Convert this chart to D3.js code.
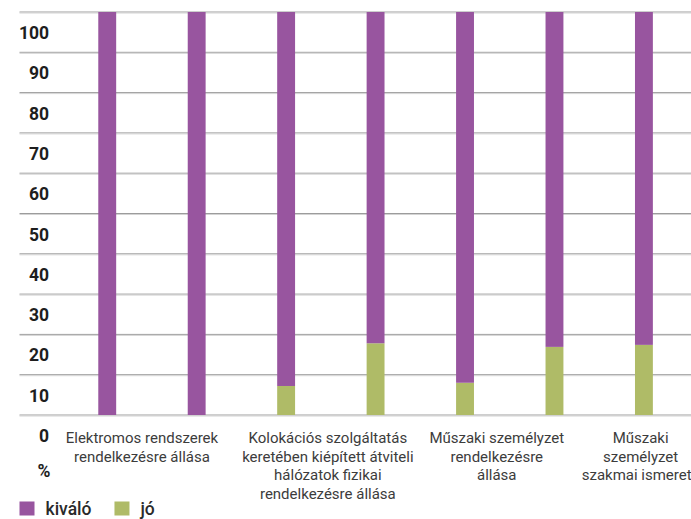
<!DOCTYPE html>
<html>
<head>
<meta charset="utf-8">
<script src="https://cdn.jsdelivr.net/npm/d3@7/dist/d3.min.js"></script>
<style>
  html, body { margin: 0; padding: 0; background: #fff; }
  svg { display: block; }
</style>
</head>
<body>
<svg id="chart" width="691" height="519"></svg>
<script>
// Categories (two bars per category)
const categories = [
  ["Elektromos rendszerek", "rendelkezésre állása"],
  ["Kolokációs szolgáltatás", "keretében kiépített átviteli", "hálózatok fizikai", "rendelkezésre állása"],
  ["Műszaki személyzet", "rendelkezésre", "állása"],
  ["Műszaki", "személyzet", "szakmai ismerete"]
];
// Bar -> category index
const barCategory = [0, 0, 1, 1, 2, 2, 3];
// Series values (%)
const kivalo = [100, 100, 92.8, 82.2, 92.0, 83.1, 82.6];
const jo     = [0, 0, 7.2, 17.8, 8.0, 16.9, 17.4];
const yTicks = [0, 10, 20, 30, 40, 50, 60, 70, 80, 90, 100];
const seriesNames = ["kiváló", "jó"];
const colors = ["#98559f", "#afbb67"];

const svg = d3.select("#chart");

const y = d3.scaleLinear().domain([0, 100]).range([415, 12]);

// 8 slots: two per category
const step = 89.45;
const x0 = 62.5;
const x = d3.scaleBand()
  .domain(d3.range(categories.length * 2))
  .range([x0, x0 + step * categories.length * 2])
  .paddingInner(0.8)
  .paddingOuter(0.4);

// Gridlines
const grid = svg.append("g");
grid.selectAll("line.g1").data(yTicks).join("line")
  .attr("x1", 19.5).attr("x2", 691)
  .attr("y1", d => y(d)).attr("y2", d => y(d))
  .attr("stroke", "#9c9c9c").attr("stroke-width", 1);
grid.selectAll("line.g2").data(yTicks).join("line")
  .attr("x1", 19.5).attr("x2", 691)
  .attr("y1", d => y(d) + 1).attr("y2", d => y(d) + 1)
  .attr("stroke", "#d4d4d4").attr("stroke-width", 1);

// Y labels (placed below each gridline)
svg.append("g").selectAll("text").data(yTicks).join("text")
  .attr("x", 49).attr("y", d => y(d) + 27)
  .attr("text-anchor", "end")
  .attr("font-family", "Roboto, sans-serif")
  .attr("font-weight", "bold")
  .attr("font-size", 17.5)
  .attr("fill", "#1e1e1e")
  .text(d => d);

svg.append("text")
  .attr("x", 44).attr("y", 477)
  .attr("text-anchor", "middle")
  .attr("font-family", "Roboto, sans-serif")
  .attr("font-weight", "bold")
  .attr("font-size", 17.5)
  .attr("fill", "#1e1e1e")
  .text("%");

// Stacked bars
const bars = svg.append("g");
bars.selectAll("rect.jo").data(jo).join("rect")
  .attr("x", (d, i) => x(i)).attr("width", x.bandwidth())
  .attr("y", d => y(d)).attr("height", d => y(0) - y(d))
  .attr("fill", colors[1]);
bars.selectAll("rect.kivalo").data(kivalo).join("rect")
  .attr("x", (d, i) => x(i)).attr("width", x.bandwidth())
  .attr("y", (d, i) => y(jo[i] + d)).attr("height", (d, i) => y(jo[i]) - y(jo[i] + d))
  .attr("fill", colors[0]);

// Category labels
const labelShift = [-10, -3, -13, -48];
const labels = svg.append("g")
  .attr("font-family", "Roboto, sans-serif")
  .attr("font-size", 15)
  .attr("fill", "#3c3c3c");
categories.forEach((lines, c) => {
  const cx = (x(2 * c) + x(2 * c + 1) + x.bandwidth()) / 2 + labelShift[c];
  const t = labels.append("text").attr("text-anchor", "middle");
  lines.forEach((ln, k) => {
    t.append("tspan").attr("x", cx).attr("y", 443 + k * 18.6).text(ln);
  });
});

// Legend
const legend = svg.append("g");
let lx = 19.5;
seriesNames.forEach((name, i) => {
  legend.append("rect").attr("x", lx).attr("y", 501.5).attr("width", 15).attr("height", 14).attr("fill", colors[i]);
  const t = legend.append("text")
    .attr("x", lx + 26).attr("y", 515)
    .attr("font-family", "Roboto, sans-serif")
    .attr("font-weight", 500)
    .attr("font-size", 17.5)
    .attr("fill", "#2a2a2a")
    .text(name);
  lx = lx + 26 + t.node().getComputedTextLength() + 23;
});
</script>
</body>
</html>
